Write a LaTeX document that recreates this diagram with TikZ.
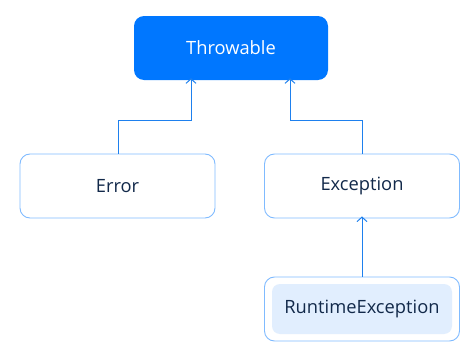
\documentclass[tikz,border=0pt]{standalone}
\usepackage{fontspec}
\setmainfont{Open Sans}
\usetikzlibrary{arrows.meta}
\definecolor{mainblue}{HTML}{0077FF}
\definecolor{edgeblue}{HTML}{80BBFF}
\definecolor{innerblue}{HTML}{E1EEFE}
\definecolor{txt}{HTML}{12294A}
\definecolor{linkblue}{HTML}{1E80EE}
\begin{document}
\begin{tikzpicture}[x=1pt,y=-1pt,
  lbl/.style={font=\fontsize{18.3}{21}\selectfont},
  box/.style={lbl,draw=edgeblue,line width=0.9pt,rounded corners=10pt,fill=white,minimum width=195pt,minimum height=64pt,inner sep=0pt,text=txt},
  topbox/.style={lbl,fill=mainblue,rounded corners=10pt,minimum width=194pt,minimum height=64pt,inner sep=0pt,text=white},
  innerbox/.style={lbl,fill=innerblue,rounded corners=8pt,minimum width=180pt,minimum height=50pt,inner sep=0pt,text=txt},
  link/.style={draw=linkblue,line width=1pt,-{Straight Barb[length=4.5pt,width=10pt,line width=1pt]}}]
\useasboundingbox (0,0) rectangle (475,359);
\node[topbox] (thr) at (231,48) {Throwable};
\node[box] (err) at (117.5,186) {Error};
\node[box] (exc) at (362,186) {Exception};
\node[box] (rtb) at (362,309) {};
\node[innerbox] (rt) at (362,309) {RuntimeException};
\coordinate (e1) at (118,120);
\coordinate (e2) at (191,120);
\coordinate (x1) at (362,120);
\coordinate (x2) at (290,120);
\draw[link] (err.north -| e1) -- (e1) -- (e2) -- ([yshift=2pt]thr.south -| e2);
\draw[link] (exc.north -| x1) -- (x1) -- (x2) -- ([yshift=2pt]thr.south -| x2);
\draw[link] (rtb.north) -- ([yshift=2pt]exc.south);
\end{tikzpicture}
\end{document}
